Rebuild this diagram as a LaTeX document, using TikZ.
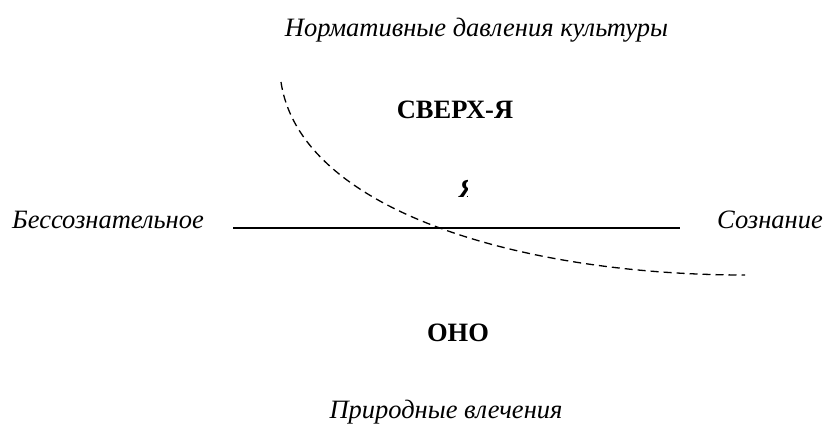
\documentclass[tikz,border=0pt]{standalone}
\usepackage{fontspec}
\setmainfont{Liberation Serif}
\begin{document}
\begin{tikzpicture}[x=1pt,y=-1pt,
  lbl/.style={font=\fontsize{26.5}{30}\selectfont\itshape, inner sep=0pt},
  big/.style={font=\fontsize{26.5}{30}\selectfont\bfseries, inner sep=0pt}]
\useasboundingbox (0,0) rectangle (824,425);
\node[lbl, anchor=base] (top) at (476.5,37) {Нормативные давления культуры};
\node[big] (super) at (455,110) {СВЕРХ-Я};
\begin{scope}
\clip (440,170) rectangle (467.5,205);
\node[font=\fontsize{26.5}{30}\selectfont\bfseries\itshape, inner sep=0pt, anchor=base west] (ego) at (459,197) {Я};
\end{scope}
\node[lbl, anchor=base east] (unc) at (204,228) {Бессознательное};
\node[lbl, anchor=base west] (con) at (717,228) {Сознание};
\node[big] (id) at (458,333) {ОНО};
\node[lbl, anchor=base] (bot) at (446,418) {Природные влечения};
\coordinate (l1) at (233,228);
\coordinate (l2) at (680,228);
\draw[line width=1.6pt] (l1) -- (l2);
\coordinate (c1) at (281,82);
\coordinate (c2) at (745,275);
\draw[line width=1.3pt, dash pattern=on 8pt off 5pt] (c1) .. controls (300,210) and (520,275) .. (c2);
\end{tikzpicture}
\end{document}
